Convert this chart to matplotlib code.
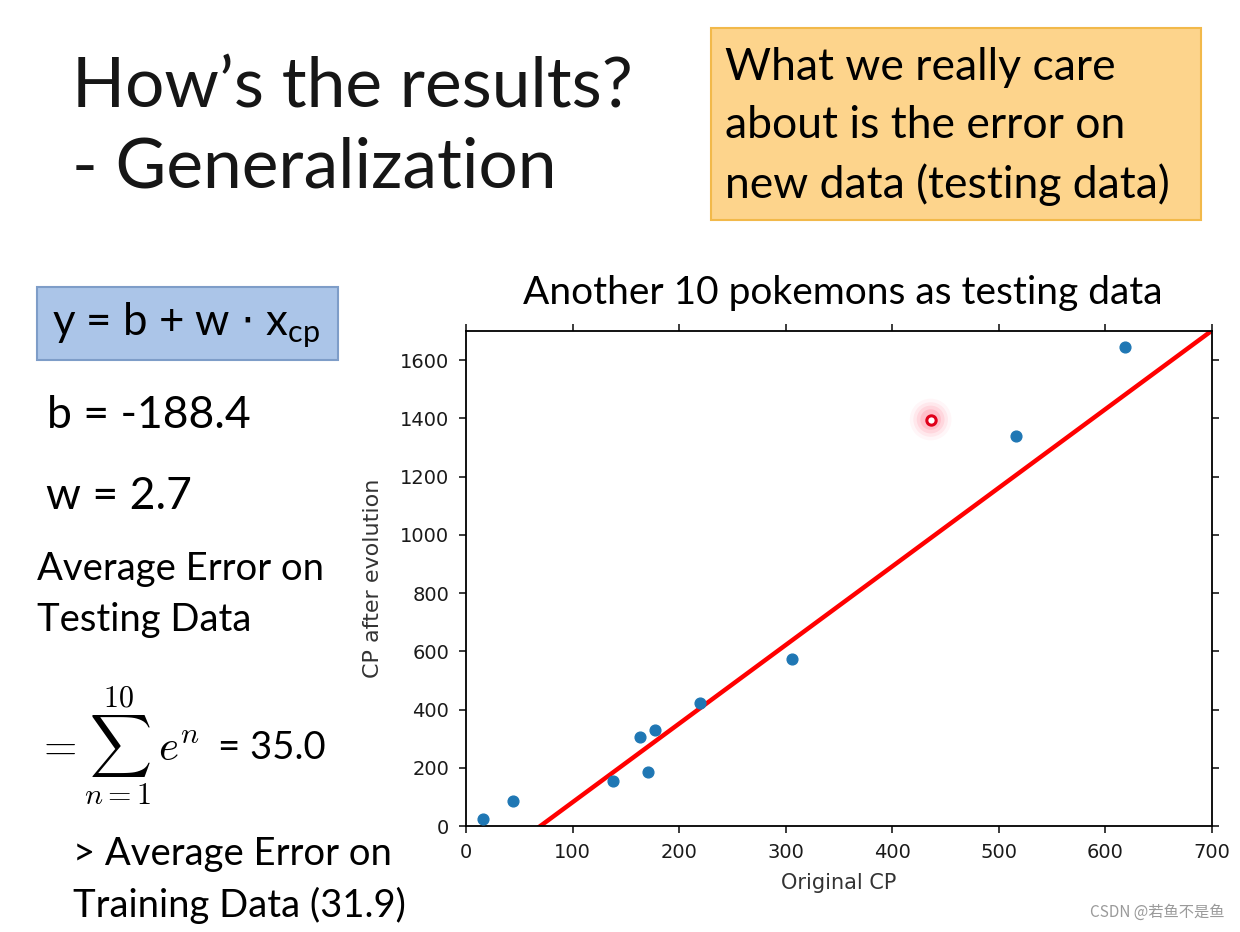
import numpy as np
import matplotlib.pyplot as plt
from matplotlib.patches import FancyBboxPatch

# testing data
original_cp = [16, 44, 138, 163, 177, 171, 220, 306, 516, 618]
evolved_cp = [24, 86, 153, 306, 330, 184, 423, 572, 1340, 1645]
marked_point = (436, 1396)                                       # highlighted point
b = -188.4
w = 2.7
x_ticks = [0, 100, 200, 300, 400, 500, 600, 700]
y_ticks = [0, 200, 400, 600, 800, 1000, 1200, 1400, 1600]

W, H = 1240, 932
def fx(x): return x / W                                          # pixel -> figure fraction
def fy(y): return 1 - y / H

fig = plt.figure(figsize=(12.4, 9.32), dpi=100)
fig.patch.set_facecolor('white')
slide_font = 'Lato'

# slide title
fig.text(fx(72), fy(88), "How\u2019s the results?", fontsize=50, family=slide_font,
         va='center', ha='left', color='#161616')
fig.text(fx(72), fy(168), "- Generalization", fontsize=50, family=slide_font,
         va='center', ha='left', color='#161616')

# orange box
fig.patches.append(FancyBboxPatch((fx(711), fy(220)), fx(1201) - fx(711), fy(28) - fy(220),
                                  boxstyle='square,pad=0', transform=fig.transFigure,
                                  facecolor='#FDD48C', edgecolor='#F2B94A', linewidth=1.5))
for i, line in enumerate(["What we really care", "about is the error on", "new data (testing data)"]):
    fig.text(fx(725), fy(67 + 59 * i), line, fontsize=32, family=slide_font,
             va='center', ha='left', color='black')

# blue box with model
fig.patches.append(FancyBboxPatch((fx(37), fy(360)), fx(338) - fx(37), fy(287) - fy(360),
                                  boxstyle='square,pad=0', transform=fig.transFigure,
                                  facecolor='#ABC5E8', edgecolor='#7E9DC8', linewidth=1.5))
fig.text(fx(52), fy(325), r"y = b + w $\cdot$ x$_{\mathregular{cp}}$", fontsize=31.5,
         family=slide_font, va='center', ha='left', color='black')

fig.text(fx(47), fy(416), "b = -188.4", fontsize=32, family=slide_font, va='center', ha='left')
fig.text(fx(46), fy(497), "w = 2.7", fontsize=32, family=slide_font, va='center', ha='left')
fig.text(fx(37), fy(569), "Average Error on", fontsize=27.5, family=slide_font, va='center', ha='left')
fig.text(fx(37), fy(620), "Testing Data", fontsize=27.5, family=slide_font, va='center', ha='left')

plt.rcParams['mathtext.fontset'] = 'cm'
fig.text(fx(36), fy(746), r"$=\sum_{n=1}^{10}\, e^n$", fontsize=31, va='center', ha='left')
fig.text(fx(218), fy(748), "= 35.0", fontsize=27.5, family=slide_font, va='center', ha='left')

fig.text(fx(73), fy(854), "> Average Error on", fontsize=27.5, family=slide_font, va='center', ha='left')
fig.text(fx(73), fy(905), "Training Data (31.9)", fontsize=27.5, family=slide_font, va='center', ha='left')

# chart
ax = fig.add_axes([fx(466), fy(826), fx(1212) - fx(466), fy(331) - fy(826)])
ax.scatter(original_cp, evolved_cp, s=60, color='#1F77B4', zorder=3)
line_x = np.array([0, 700])
ax.plot(line_x, b + w * line_x, color='red', linewidth=3.2, zorder=2)
for size, alpha in [(900, 0.06), (620, 0.1), (400, 0.15), (220, 0.22)]:     # soft glow
    ax.scatter([marked_point[0]], [marked_point[1]], s=size, color='#FF7088', alpha=alpha,
               edgecolors='none', zorder=4)
ax.scatter([marked_point[0]], [marked_point[1]], s=45, facecolor='white', edgecolor='#E0001B',
           linewidth=2.2, zorder=5)
ax.set_xlim(0, 700)
ax.set_ylim(0, 1700)
ax.set_xticks(x_ticks)
ax.set_yticks(y_ticks)
ax.tick_params(direction='out', length=5, width=1.2, pad=7, labelsize=14, top=True, right=True,
               colors='#1a1a1a')
for s in ax.spines.values():
    s.set_linewidth(1.3)
ax.set_xlabel('Original CP', fontsize=15, color='#333333', labelpad=8)
ax.set_ylabel('CP after evolution', fontsize=16, color='#333333', labelpad=12)
fig.text(fx(843), fy(293), "Another 10 pokemons as testing data", fontsize=28,
         family=slide_font, va='center', ha='center')

fig.text(fx(1225), fy(912), "CSDN @若鱼不是鱼", fontsize=11, color='#9a9a9a',
         family=['Noto Sans CJK SC', 'DejaVu Sans'], va='center', ha='right')

plt.savefig('out.png', dpi=100)
